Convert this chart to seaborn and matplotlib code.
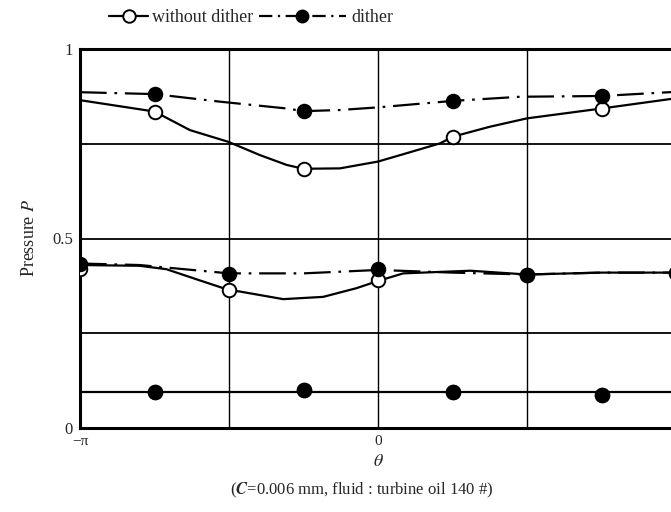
import numpy as np
import pandas as pd
import matplotlib
matplotlib.use("Agg")
import matplotlib.pyplot as plt
import seaborn as sns
from matplotlib.lines import Line2D

# ---- data (theta in units of pi) ----
top_dither_curve_x = [-1, -0.75, -0.53, -0.306, -0.25, -0.128, 0, 0.25, 0.477, 0.75, 1]
top_dither_curve_y = [0.886, 0.881, 0.861, 0.843, 0.836, 0.839, 0.846, 0.863, 0.874, 0.876, 0.887]
top_plain_curve_x = [-1, -0.75, -0.631, -0.502, -0.396, -0.306, -0.25, -0.128, 0, 0.096,
                     0.208, 0.253, 0.376, 0.5, 0.75, 1]
top_plain_curve_y = [0.865, 0.835, 0.786, 0.755, 0.720, 0.694, 0.684, 0.685, 0.703, 0.725,
                     0.751, 0.769, 0.795, 0.817, 0.843, 0.870]

mid_dither_curve_x = [-1, -0.80, -0.664, -0.5, -0.25, 0, 0.25, 0.5, 0.75, 1]
mid_dither_curve_y = [0.434, 0.430, 0.420, 0.408, 0.408, 0.417, 0.410, 0.405, 0.410, 0.410]
mid_plain_curve_x = [-1, -0.80, -0.71, -0.6, -0.5, -0.463, -0.318, -0.184, -0.072, 0,
                     0.085, 0.31, 0.5, 0.75, 1]
mid_plain_curve_y = [0.430, 0.428, 0.419, 0.390, 0.364, 0.360, 0.340, 0.346, 0.369, 0.388,
                     0.408, 0.415, 0.405, 0.410, 0.410]

low_curve_x = [-1, 1]
low_curve_y = [0.095, 0.095]

quarter_x = [-0.75, -0.25, 0.25, 0.75]
half_x = [-1, -0.5, 0, 0.5, 1]
top_dither_pts = [0.881, 0.836, 0.863, 0.876]
top_plain_pts = [0.835, 0.684, 0.769, 0.843]
mid_dither_pts = [0.434, 0.407, 0.420, 0.404, 0.410]
mid_plain_pts = [0.420, 0.364, 0.390, 0.404, 0.410]
low_dither_pts = [0.096, 0.100, 0.096, 0.087]
low_plain_pts = [0.096, 0.100, 0.096, 0.087]

x_ticks = [-1, 0, 1]
x_tick_labels = ["\u2212\u03c0", "0", "\u03c0"]
y_ticks = [0, 0.5, 1]
y_tick_labels = ["0", "0.5", "1"]

# ---- style ----
sns.set_theme(style="white")
plt.rcParams["font.family"] = ["Liberation Serif", "DejaVu Serif"]
plt.rcParams["mathtext.fontset"] = "stix"

fig = plt.figure(figsize=(6.71, 5.12), dpi=100)
ax = fig.add_axes([80 / 671, 84 / 512, 596 / 671, 379 / 512])

dashdot = (0, (12, 3.5, 1.2, 3.5))
lw = 1.6

# grid lines
for gx in [-0.5, 0, 0.5]:
    ax.axvline(gx, color="black", lw=1.0, zorder=1)
for gy in [0.25, 0.5, 0.75]:
    ax.axhline(gy, color="black", lw=1.3, zorder=1)

def curve(xs, ys, ls):
    df = pd.DataFrame({"x": xs, "y": ys})
    sns.lineplot(data=df, x="x", y="y", ax=ax, color="black", lw=lw,
                 linestyle=ls, zorder=2, legend=False)

curve(top_plain_curve_x, top_plain_curve_y, "-")
curve(top_dither_curve_x, top_dither_curve_y, dashdot)
curve(mid_plain_curve_x, mid_plain_curve_y, "-")
curve(mid_dither_curve_x, mid_dither_curve_y, dashdot)
curve(low_curve_x, low_curve_y, "-")

def pts(xs, ys, filled):
    df = pd.DataFrame({"x": xs, "y": ys})
    sns.scatterplot(data=df, x="x", y="y", ax=ax, s=95, marker="o",
                    facecolor="black" if filled else "white",
                    edgecolor="black", linewidth=1.4, zorder=4 if filled else 3,
                    legend=False)

pts(quarter_x, top_plain_pts, False)
pts(half_x, mid_plain_pts, False)
pts(quarter_x, low_plain_pts, False)
pts(quarter_x, top_dither_pts, True)
pts(half_x, mid_dither_pts, True)
pts(quarter_x, low_dither_pts, True)

ax.set_xlim(-1, 1)
ax.set_ylim(0, 1)
ax.set_xticks(x_ticks)
ax.set_xticklabels(x_tick_labels, fontsize=11)
ax.set_yticks(y_ticks)
ax.set_yticklabels(y_tick_labels, fontsize=12)
ax.tick_params(length=0, pad=5)
ax.set_xlabel("")
ax.set_ylabel("")
for s in ax.spines.values():
    s.set_linewidth(2.2)
    s.set_color("black")

fig.text(30 / 671, 1 - 238 / 512, "Pressure $P$", rotation=90, ha="center",
         va="center", fontsize=13)
fig.text(378 / 671, 1 - 462 / 512, r"$\theta$", ha="center", va="center", fontsize=13)
fig.text(362 / 671, 1 - 490 / 512, r"($\mathbfit{C}$=0.006 mm, fluid : turbine oil 140 #)",
         ha="center", va="center", fontsize=12)

h_plain = Line2D([], [], color="black", lw=lw, marker="o", markersize=9,
                 markerfacecolor="white", markeredgecolor="black", markeredgewidth=1.4)
h_dither = Line2D([], [], color="black", lw=lw, linestyle=(0, (6, 2.5, 1, 2.5)), marker="o",
                  markersize=9, markerfacecolor="black", markeredgecolor="black")
leg1 = fig.legend([h_plain], ["without dither"], loc="center",
                  bbox_to_anchor=(181 / 671, 1 - 18 / 512), frameon=False,
                  fontsize=13, handlelength=2.2, handletextpad=0.2)
fig.legend([h_dither], ["dither"], loc="center",
           bbox_to_anchor=(326 / 671, 1 - 18 / 512), frameon=False,
           fontsize=13, handlelength=4.8, handletextpad=0.3)

fig.savefig("out.png", dpi=100)
